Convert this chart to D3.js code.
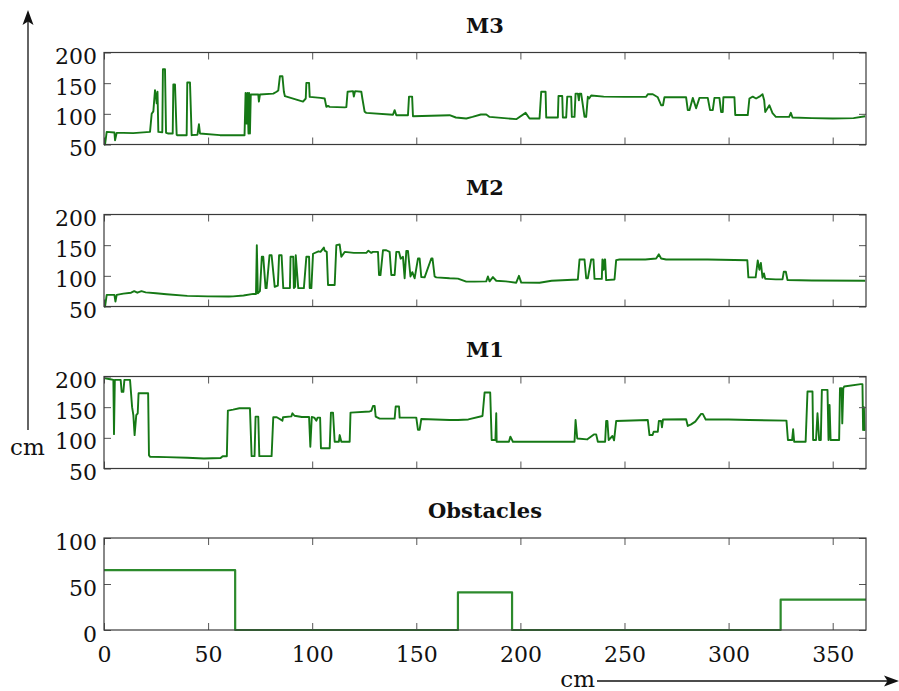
<!DOCTYPE html>
<html>
<head>
<meta charset="utf-8">
<script src="https://cdn.jsdelivr.net/npm/d3@7"></script>
<style>
  body { margin: 0; background: #fff; }
  svg { display: block; }
</style>
</head>
<body>
<svg id="chart" width="899" height="691"></svg>
<script>
// Distance along the track (cm) and the readings of each range sensor (cm)
const xTicks = [0, 50, 100, 150, 200, 250, 300, 350];
const sensorTicks = [50, 100, 150, 200];
const obstacleTicks = [0, 50, 100];
const panelTitles = ["M3", "M2", "M1", "Obstacles"];

const m3 = [[0,50],[0.5,50],[1.3,70.6],[5.0,69.5],[5.3,57],[6.1,69],[9.3,69],[14,68.5],[22.1,70.6],[22.9,100],[23.7,104],[24.5,138.6],[25.0,128],[25.3,117],[25.7,136],[26.1,70.6],[28.0,70],[28.3,172.8],[29.3,172.8],[29.8,69],[30.9,68],[33.0,68],[33.3,147.8],[34.1,147.8],[34.9,66],[35.2,65.2],[39.7,65.2],[40.0,151],[41.3,151],[42.1,65.2],[44.9,66],[45.6,83],[46.1,68],[55.7,65.2],[67.5,65.2],[68.0,134],[68.5,84],[68.9,134],[69.4,68],[69.7,134],[70.1,68],[70.5,131.5],[70.9,131.5],[74.1,131.5],[74.4,120],[74.9,131.5],[81.3,133],[82.9,136],[83.7,138],[84.5,161.4],[85.7,161.4],[86.4,136],[86.9,128.8],[95.6,120],[96.9,125],[97.2,150.5],[98.5,150.5],[98.8,127.7],[104,126],[106.0,125],[106.8,111.4],[107.6,113],[108.4,111.4],[115.6,110.5],[116.4,111],[117,136],[119.6,137],[120,128],[120.6,137],[123.6,136],[124.1,125],[125.2,103.3],[126,101.5],[138.8,98.5],[139.6,106],[140.4,97.8],[146,97.8],[146.5,128],[148,128],[148.4,96],[166,97.8],[169,94],[174,92.4],[177,95],[181,98.9],[183.6,98.9],[185.2,95],[198,91.3],[202.5,101.6],[204.4,92.4],[209.2,92.4],[210,136],[212.1,136],[212.4,94],[218,94],[218.3,129],[220.1,129],[220.4,94],[222,94],[222.5,128],[224.4,128],[224.7,95],[226,95],[226.5,133],[227.6,133],[228.1,122],[228.4,133],[229.2,133],[230.8,95],[231.6,95],[232.4,128],[233,125],[234,130],[240,128],[250,127.7],[260.4,127.7],[261.2,132],[263.6,132],[266,127],[267.6,114],[268.5,114],[269.2,127],[279.6,127],[280.4,106],[281.2,106],[282.8,126],[284.4,109],[286,126],[290,126],[291.1,106],[292.4,106],[293.2,126],[295.6,126],[296.4,103],[297.2,103],[297.5,127],[302.8,127],[303.2,98],[309.2,98],[310,125],[311.6,128],[313.2,125],[314.8,128],[316.3,132],[317.1,122],[317.6,103],[319.6,114],[321.1,101],[322.7,95],[329.1,95],[329.9,101.6],[330.7,94],[340,93],[350,92.4],[360,93],[365.6,96]];

const m2 = [[0,50],[0.5,50],[1.3,69],[5.0,69],[5.5,58],[6.1,69],[9.3,71],[13,72.5],[14.5,75],[16,72.5],[18,75],[20,73],[25,71.6],[30,70],[40,67.3],[50,66.5],[60,66.2],[62,66.5],[67,68],[71.7,70.5],[73.0,70.5],[73.4,150],[73.9,71.6],[74.9,75],[75.8,131],[76.5,131],[77.6,80],[78.1,80],[79.5,133.6],[80.5,133.6],[82,82],[83.5,84],[84.1,133.6],[85.3,133.6],[86.1,80],[89.3,80],[89.6,131],[90.9,131],[91.2,80],[91.8,82],[92.1,133.6],[93.3,80],[96,80],[97.2,131],[98.5,131],[98.8,80],[99.6,80],[100.4,136],[103,140],[104,139],[105.6,146],[106,141],[107,139],[107.6,85],[110.8,85],[111.6,150],[113.2,151],[114,131],[115.6,139],[120,137.4],[126,137.4],[127,141],[128.4,137.4],[129.2,139],[131.6,139],[132.1,101.3],[132.8,101.3],[134,141.7],[135.6,141.7],[137.2,139],[138,101.3],[139.6,101.3],[140.4,139],[141.7,139],[142.5,128],[143.6,131],[144.4,96],[145.2,140.6],[146,140.6],[147.2,99],[148.1,106],[149.2,96],[150.8,128.2],[151.6,128.2],[152.4,98],[154,97.5],[157.2,128.2],[157.8,128.2],[158.8,99],[159.6,97.5],[166,96],[170,95.5],[174,90.5],[178,90.5],[183.6,91],[184.4,99],[185.2,91],[186.8,98],[188.4,92],[193,91],[198,88.8],[199.3,100],[200.4,89],[209.2,88.8],[215,92],[227.6,94],[228.4,126.6],[230.8,126.6],[231.6,96],[232.4,96],[234,126.6],[235.1,126.6],[235.6,95],[239.1,95],[239.4,126.6],[240,110],[240.4,126.6],[240.7,126.6],[241.2,93],[245.2,94],[246,125.5],[247.6,126.6],[260,126.6],[265.2,128.2],[266.5,135],[267.6,128.2],[270,126.6],[290,126.6],[309,125.5],[309.5,97.5],[313,97.5],[314,125],[314.8,110],[315.5,121],[316.3,97],[317,104],[317.6,95],[318,95],[322.7,94.2],[325.9,94.2],[326.5,106.6],[327.5,106.6],[328.3,93.2],[340,92.5],[365.6,92]];

const m1 = [[0,197.3],[3,195.5],[4.5,194.5],[4.8,106],[5.2,194.5],[8,194.5],[8.5,175],[9.3,175],[9.8,194.5],[12.5,194.5],[13.5,150],[14.1,137],[14.7,104.5],[15.5,137],[16.2,140],[16.6,172.7],[21.2,172.7],[21.6,71.8],[22.1,69.1],[30,68.5],[40,67.5],[48,66.4],[56,67],[57,70],[59,70],[59.5,144.4],[62,146],[65,148.2],[70.1,148.2],[70.9,70.2],[72.3,70.2],[72.8,134.5],[74.1,134.5],[74.6,70.2],[80.5,70.2],[81.3,133.5],[83,133.5],[85.7,128],[86,133.5],[90,135],[90.5,140],[91.5,136],[95,134],[98.5,134],[99.1,85.5],[99.8,134],[101,133],[102,128],[102.6,133],[103.8,133],[104.2,83],[108.4,83],[109,141.1],[110,141.1],[110.8,93.6],[112.8,93.6],[113.2,104.5],[114,93.6],[118,93.6],[118.4,141.1],[127.6,143],[128.4,144],[129.2,152],[130,152],[130.5,134.5],[132.4,131.3],[139.6,131.3],[140.1,151],[141.7,151],[142,133],[150,132.9],[150.8,113],[151.6,113],[152.4,130.7],[166,129.1],[170,129],[175,130],[181.8,135.6],[182.8,173.8],[185.5,173.8],[186.2,96.4],[188,96.4],[188.4,140],[188.6,93.6],[194.5,93.6],[195.2,102],[196.4,93.6],[226,93.6],[226.5,129],[227.3,99],[232,97.4],[235.3,105.6],[236.4,105.6],[237.2,93.6],[240.7,93.6],[241.2,127.4],[241.8,127.4],[242.4,96.4],[244.2,103],[245,96],[246,127.4],[261.2,129],[262,104.5],[263.5,104.5],[264,110],[266,110],[266.5,127.4],[267.6,127.4],[268,117],[268.5,130],[279.6,130.2],[280.4,119.3],[282,122],[284,126.4],[286.8,139],[287.6,139],[289,130],[300,130],[310,129],[327.8,128],[328.5,96.4],[330.5,96.4],[331,114],[331.5,93.6],[337,93.6],[337.9,175.5],[340.3,175.5],[340.6,96.4],[342,96.4],[342.7,140],[343.5,96.4],[344.3,96.4],[344.8,178.2],[347.5,178.2],[348,96.4],[348.5,153.6],[349,96.4],[353.1,96.4],[353.5,180.9],[354.3,180.9],[354.6,123.6],[355.1,180.9],[355.5,183.6],[363.5,187.5],[364.3,187.5],[364.6,112.7],[365,150],[365.3,112.7],[365.6,113]];

// Obstacles: start, end and height of each block (cm)
const obstacleStart = [0, 170, 325];
const obstacleEnd = [63, 196, 366];
const obstacleHeight = [65, 41, 33];

const xMax = 366;

// ---- layout ----
const svg = d3.select("#chart");
const left = 104, right = 866, panelH = 92;
const panelTops = [52.5, 214.5, 376.5, 538];
const serif = "'DejaVu Serif', 'Liberation Serif', serif";
const lineGreen = "#157815";

const x = d3.scaleLinear().domain([0, xMax]).range([left, right]);

function obstaclePoints() {
  const pts = [];
  let cursor = 0;
  obstacleStart.forEach((s, i) => {
    if (s > cursor) pts.push([cursor, 0], [s, 0]);
    pts.push([s, obstacleHeight[i]], [obstacleEnd[i], obstacleHeight[i]]);
    if (obstacleEnd[i] < xMax) pts.push([obstacleEnd[i], 0]);
    cursor = obstacleEnd[i];
  });
  if (cursor < xMax) pts.push([xMax, 0]);
  return pts;
}

const panels = [
  { title: panelTitles[0], data: m3, domain: [50, 200], ticks: sensorTicks, color: lineGreen, width: 1.9 },
  { title: panelTitles[1], data: m2, domain: [50, 200], ticks: sensorTicks, color: lineGreen, width: 1.9 },
  { title: panelTitles[2], data: m1, domain: [50, 200], ticks: sensorTicks, color: lineGreen, width: 1.9 },
  { title: panelTitles[3], data: obstaclePoints(), domain: [0, 100], ticks: obstacleTicks, color: "#2c8a2c", width: 2.2 }
];

panels.forEach((p, i) => {
  const top = panelTops[i], bottom = top + panelH;
  const y = d3.scaleLinear().domain(p.domain).range([bottom, top]);
  const g = svg.append("g");
  const isLast = i === panels.length - 1;

  // data trace
  g.append("path")
    .datum(p.data)
    .attr("fill", "none")
    .attr("stroke", p.color)
    .attr("stroke-width", p.width)
    .attr("stroke-linejoin", "round")
    .attr("d", d3.line().x(d => x(d[0])).y(d => y(d[1])));

  // inward ticks on all four sides
  const axBottom = g.append("g").attr("transform", `translate(0,${bottom})`)
    .call(d3.axisBottom(x).tickValues(xTicks).tickSize(-7).tickPadding(16)
      .tickFormat(isLast ? d3.format("d") : () => ""));
  const axTop = g.append("g").attr("transform", `translate(0,${top})`)
    .call(d3.axisTop(x).tickValues(xTicks).tickSize(-7).tickFormat(() => ""));
  const axLeft = g.append("g").attr("transform", `translate(${left},0)`)
    .call(d3.axisLeft(y).tickValues(p.ticks).tickSize(-7).tickPadding(7).tickFormat(d3.format("d")));
  const axRight = g.append("g").attr("transform", `translate(${right},0)`)
    .call(d3.axisRight(y).tickValues(p.ticks).tickSize(-7).tickFormat(() => ""));

  [axBottom, axTop, axLeft, axRight].forEach(a => {
    a.select(".domain").remove();
    a.selectAll(".tick line").attr("stroke", "#555").attr("stroke-width", 1);
    a.selectAll("text").attr("font-family", serif).attr("font-size", 22).attr("fill", "#111");
  });
  axLeft.selectAll("text").attr("dy", "0.5em");
  axBottom.selectAll("text").attr("dy", "0.72em");

  // frame
  g.append("rect")
    .attr("x", left).attr("y", top)
    .attr("width", right - left).attr("height", panelH)
    .attr("fill", "none").attr("stroke", "#3a3a3a").attr("stroke-width", 1.2);

  // title
  g.append("text")
    .attr("x", (left + right) / 2).attr("y", top - 20)
    .attr("text-anchor", "middle")
    .attr("font-family", serif).attr("font-weight", "bold").attr("font-size", 21)
    .attr("fill", "#111")
    .text(p.title);
});

// vertical axis arrow with unit
svg.append("line").attr("x1", 28).attr("x2", 28).attr("y1", 20).attr("y2", 430)
  .attr("stroke", "#111").attr("stroke-width", 1.3);
svg.append("path").attr("d", "M28,10 L22.5,25 L28,21.5 L33.5,25 Z").attr("fill", "#111");
svg.append("text").attr("x", 10).attr("y", 455)
  .attr("font-family", serif).attr("font-size", 23).attr("fill", "#111").text("cm");

// horizontal axis arrow with unit
svg.append("line").attr("x1", 597).attr("x2", 890).attr("y1", 681).attr("y2", 681)
  .attr("stroke", "#111").attr("stroke-width", 1.3);
svg.append("path").attr("d", "M899,681 L884,675.5 L887.5,681 L884,686.5 Z").attr("fill", "#111");
svg.append("text").attr("x", 595).attr("y", 687).attr("text-anchor", "end")
  .attr("font-family", serif).attr("font-size", 23).attr("fill", "#111").text("cm");
</script>
</body>
</html>
